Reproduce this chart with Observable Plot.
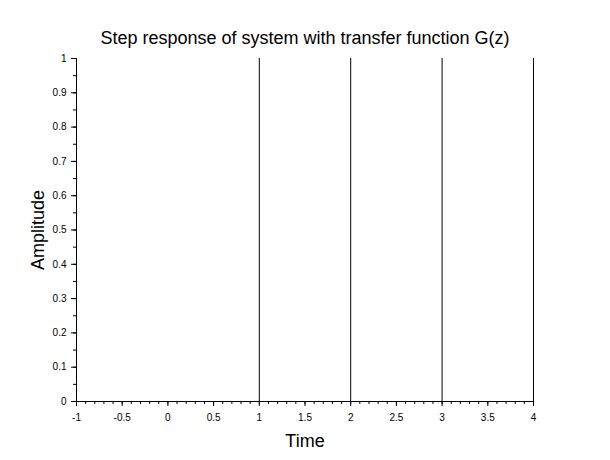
<!DOCTYPE html>
<html>
<head>
<meta charset="utf-8">
<script src="https://cdn.jsdelivr.net/npm/d3@7"></script>
<script src="https://cdn.jsdelivr.net/npm/@observablehq/plot@0.6"></script>
<style>
  html, body { margin: 0; padding: 0; background: #fff; }
  #chart svg { display: block; }
</style>
</head>
<body>
<div id="chart"></div>
<script>
const title = "Step response of system with transfer function G(z)";
const xLabel = "Time";
const yLabel = "Amplitude";
const times = [0, 1, 2, 3, 4];
const amplitude = [0, 1, 1, 1, 1];
const xTicks = [-1, -0.5, 0, 0.5, 1, 1.5, 2, 2.5, 3, 3.5, 4];
const xMinorTicks = d3.range(-10, 41).map(d => d / 10);
const yTicks = [0, 0.1, 0.2, 0.3, 0.4, 0.5, 0.6, 0.7, 0.8, 0.9, 1];
const yMinorTicks = d3.range(0, 21).map(d => d / 20);

const data = times.map((t, i) => ({time: t, amplitude: amplitude[i]}));
const font = "'Liberation Sans', Arial, sans-serif";

const chart = Plot.plot({
  width: 610,
  height: 460,
  marginLeft: 76,
  marginRight: 77,
  marginTop: 58,
  marginBottom: 59,
  style: {fontFamily: font, fontSize: "10px", background: "#fff", color: "#000"},
  x: {domain: [-1, 4], label: null},
  y: {domain: [0, 1], label: null},
  marks: [
    Plot.axisX(xMinorTicks, {tickSize: 3, text: null, stroke: "#000", strokeOpacity: 1, label: null}),
    Plot.axisX(xTicks, {tickSize: 5, tickPadding: 7, tickFormat: d => String(d), stroke: "#000", strokeOpacity: 1, fill: "#000", label: null}),
    Plot.axisY(yMinorTicks, {tickSize: 3, text: null, stroke: "#000", strokeOpacity: 1, label: null}),
    Plot.axisY(yTicks, {tickSize: 5, tickPadding: 5, tickFormat: d => String(d), stroke: "#000", strokeOpacity: 1, fill: "#000", label: null}),
    Plot.ruleX([-1], {stroke: "#000"}),
    Plot.ruleY([0], {stroke: "#000"}),
    Plot.ruleX(data.filter(d => d.amplitude !== 0), {x: "time", y1: 0, y2: "amplitude", stroke: "#000", strokeWidth: 1}),
    Plot.text([title], {frameAnchor: "top", lineAnchor: "middle", dy: -20, fontSize: 18, fill: "#000", fontFamily: font}),
    Plot.text([xLabel], {frameAnchor: "bottom", lineAnchor: "middle", dy: 40, fontSize: 18, fill: "#000", fontFamily: font}),
    Plot.text([yLabel], {frameAnchor: "left", textAnchor: "middle", lineAnchor: "middle", dx: -38, rotate: -90, fontSize: 18, fill: "#000", fontFamily: font})
  ]
});
document.getElementById("chart").appendChild(chart);
</script>
</body>
</html>
